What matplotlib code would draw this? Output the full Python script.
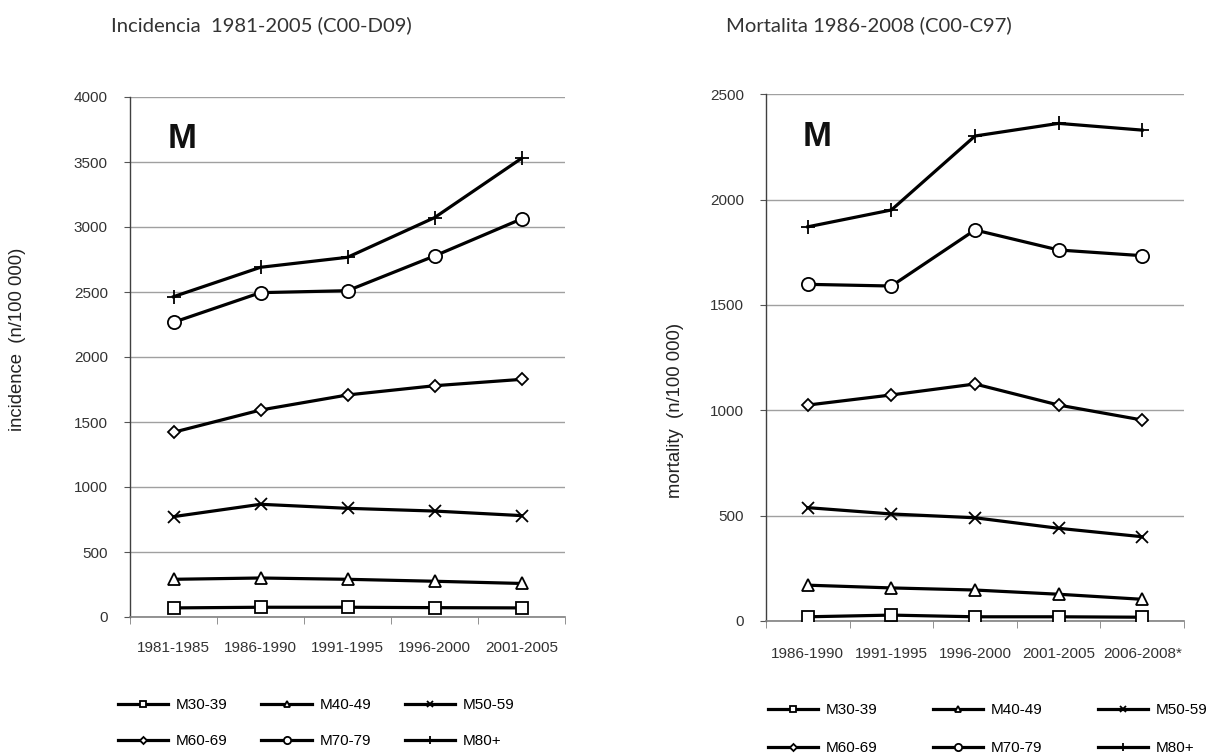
import matplotlib
matplotlib.use("Agg")
import matplotlib.pyplot as plt
import numpy as np

# ---- data ----
inc_periods = ["1981-1985", "1986-1990", "1991-1995", "1996-2000", "2001-2005"]
mort_periods = ["1986-1990", "1991-1995", "1996-2000", "2001-2005", "2006-2008*"]
series_names = ["M30-39", "M40-49", "M50-59", "M60-69", "M70-79", "M80+"]

inc_m30_39 = [70, 75, 75, 72, 70]
inc_m40_49 = [290, 300, 290, 275, 258]
inc_m50_59 = [772, 867, 836, 815, 780]
inc_m60_69 = [1421, 1592, 1708, 1779, 1828]
inc_m70_79 = [2267, 2495, 2510, 2777, 3062]
inc_m80 = [2464, 2690, 2767, 3072, 3528]

mort_m30_39 = [20, 28, 20, 20, 18]
mort_m40_49 = [170, 157, 147, 127, 103]
mort_m50_59 = [538, 508, 490, 440, 400]
mort_m60_69 = [1025, 1073, 1125, 1025, 954]
mort_m70_79 = [1598, 1590, 1856, 1761, 1734]
mort_m80 = [1871, 1951, 2302, 2362, 2330]

inc_yticks = [0, 500, 1000, 1500, 2000, 2500, 3000, 3500, 4000]
mort_yticks = [0, 500, 1000, 1500, 2000, 2500]

markers = ["s", "^", "x", "D", "o", "+"]
msizes = [9, 9, 9, 6.5, 9.5, 10]

fig = plt.figure(figsize=(12.21, 7.53), dpi=100)
fig.patch.set_facecolor("white")

ax1 = fig.add_axes([130/1221, 1-617/753, 435/1221, 520/753])
ax2 = fig.add_axes([766/1221, 1-621/753, 418/1221, (621-94.3)/753])

tick_font = "Liberation Sans"

def draw(ax, periods, data, yticks, xpad):
    x = np.arange(len(periods))
    handles = []
    for vals, m, ms, name in zip(data, markers, msizes, series_names):
        h, = ax.plot(x, vals, color="black", lw=2.3, marker=m, ms=ms,
                     mfc="white", mec="black", mew=1.3, label=name, zorder=3)
        handles.append(h)
    ax.set_xlim(-0.5, len(periods) - 0.5)
    ax.set_ylim(yticks[0], yticks[-1])
    ax.set_yticks(yticks)
    ax.set_yticklabels([str(t) for t in yticks], family=tick_font, fontsize=11, color="#333333")
    ax.set_xticks(x)
    ax.set_xticklabels(periods, family=tick_font, fontsize=11, color="#333333")
    ax.set_xticks(np.arange(-0.5, len(periods)), minor=True)
    ax.tick_params(axis="x", which="major", length=0, pad=xpad)
    ax.tick_params(axis="x", which="minor", length=5, color="#808080", direction="out")
    ax.tick_params(axis="y", length=4, color="#555555", direction="out", pad=12)
    ax.grid(axis="y", color="#a0a0a0", lw=1.0, zorder=0)
    for s in ["top", "right"]:
        ax.spines[s].set_visible(False)
    ax.spines["left"].set_color("#404040")
    ax.spines["left"].set_linewidth(1.0)
    ax.spines["bottom"].set_color("#808080")
    ax.spines["bottom"].set_linewidth(1.2)
    ax.set_facecolor("white")
    ax.text(0.087, 0.92, "M", transform=ax.transAxes, fontsize=25, fontweight="bold",
            family="Liberation Sans", va="center", ha="left", color="#111111")
    return handles

h1 = draw(ax1, inc_periods,
          [inc_m30_39, inc_m40_49, inc_m50_59, inc_m60_69, inc_m70_79, inc_m80],
          inc_yticks, 17)
h2 = draw(ax2, mort_periods,
          [mort_m30_39, mort_m40_49, mort_m50_59, mort_m60_69, mort_m70_79, mort_m80],
          mort_yticks, 19)

fig.text(18/1221, 1-339/753, "incidence  (n/100 000)", rotation=90, ha="center", va="center",
         family=tick_font, fontsize=13.3, color="#222222")
fig.text(676/1221, 1-410/753, "mortality  (n/100 000)", rotation=90, ha="center", va="center",
         family=tick_font, fontsize=13.3, color="#222222")

fig.text(261/1221, 1-25/753, "Incidencia  1981-2005 (C00-D09)", ha="center", va="center",
         family="Lato", fontsize=14.6, color="#333333")
fig.text(869/1221, 1-25/753, "Mortalita 1986-2008 (C00-C97)", ha="center", va="center",
         family="Lato", fontsize=14.6, color="#333333")

order = [0, 3, 1, 4, 2, 5]
leg_kw = dict(ncol=3, frameon=False, prop={"family": tick_font, "size": 11},
              handlelength=3.3, handletextpad=0.5, markerscale=0.55,
              borderpad=0, borderaxespad=0)
l1 = fig.legend([h1[i] for i in order], [series_names[i] for i in order],
                loc="upper left", bbox_to_anchor=(118/1221, 1-698/753),
                columnspacing=2.2, labelspacing=1.45, **leg_kw)
l2 = fig.legend([h2[i] for i in order], [series_names[i] for i in order],
                loc="upper left", bbox_to_anchor=(768/1221, 1-703/753),
                columnspacing=3.6, labelspacing=1.6, **leg_kw)

fig.savefig("out.png", dpi=100, facecolor="white")
